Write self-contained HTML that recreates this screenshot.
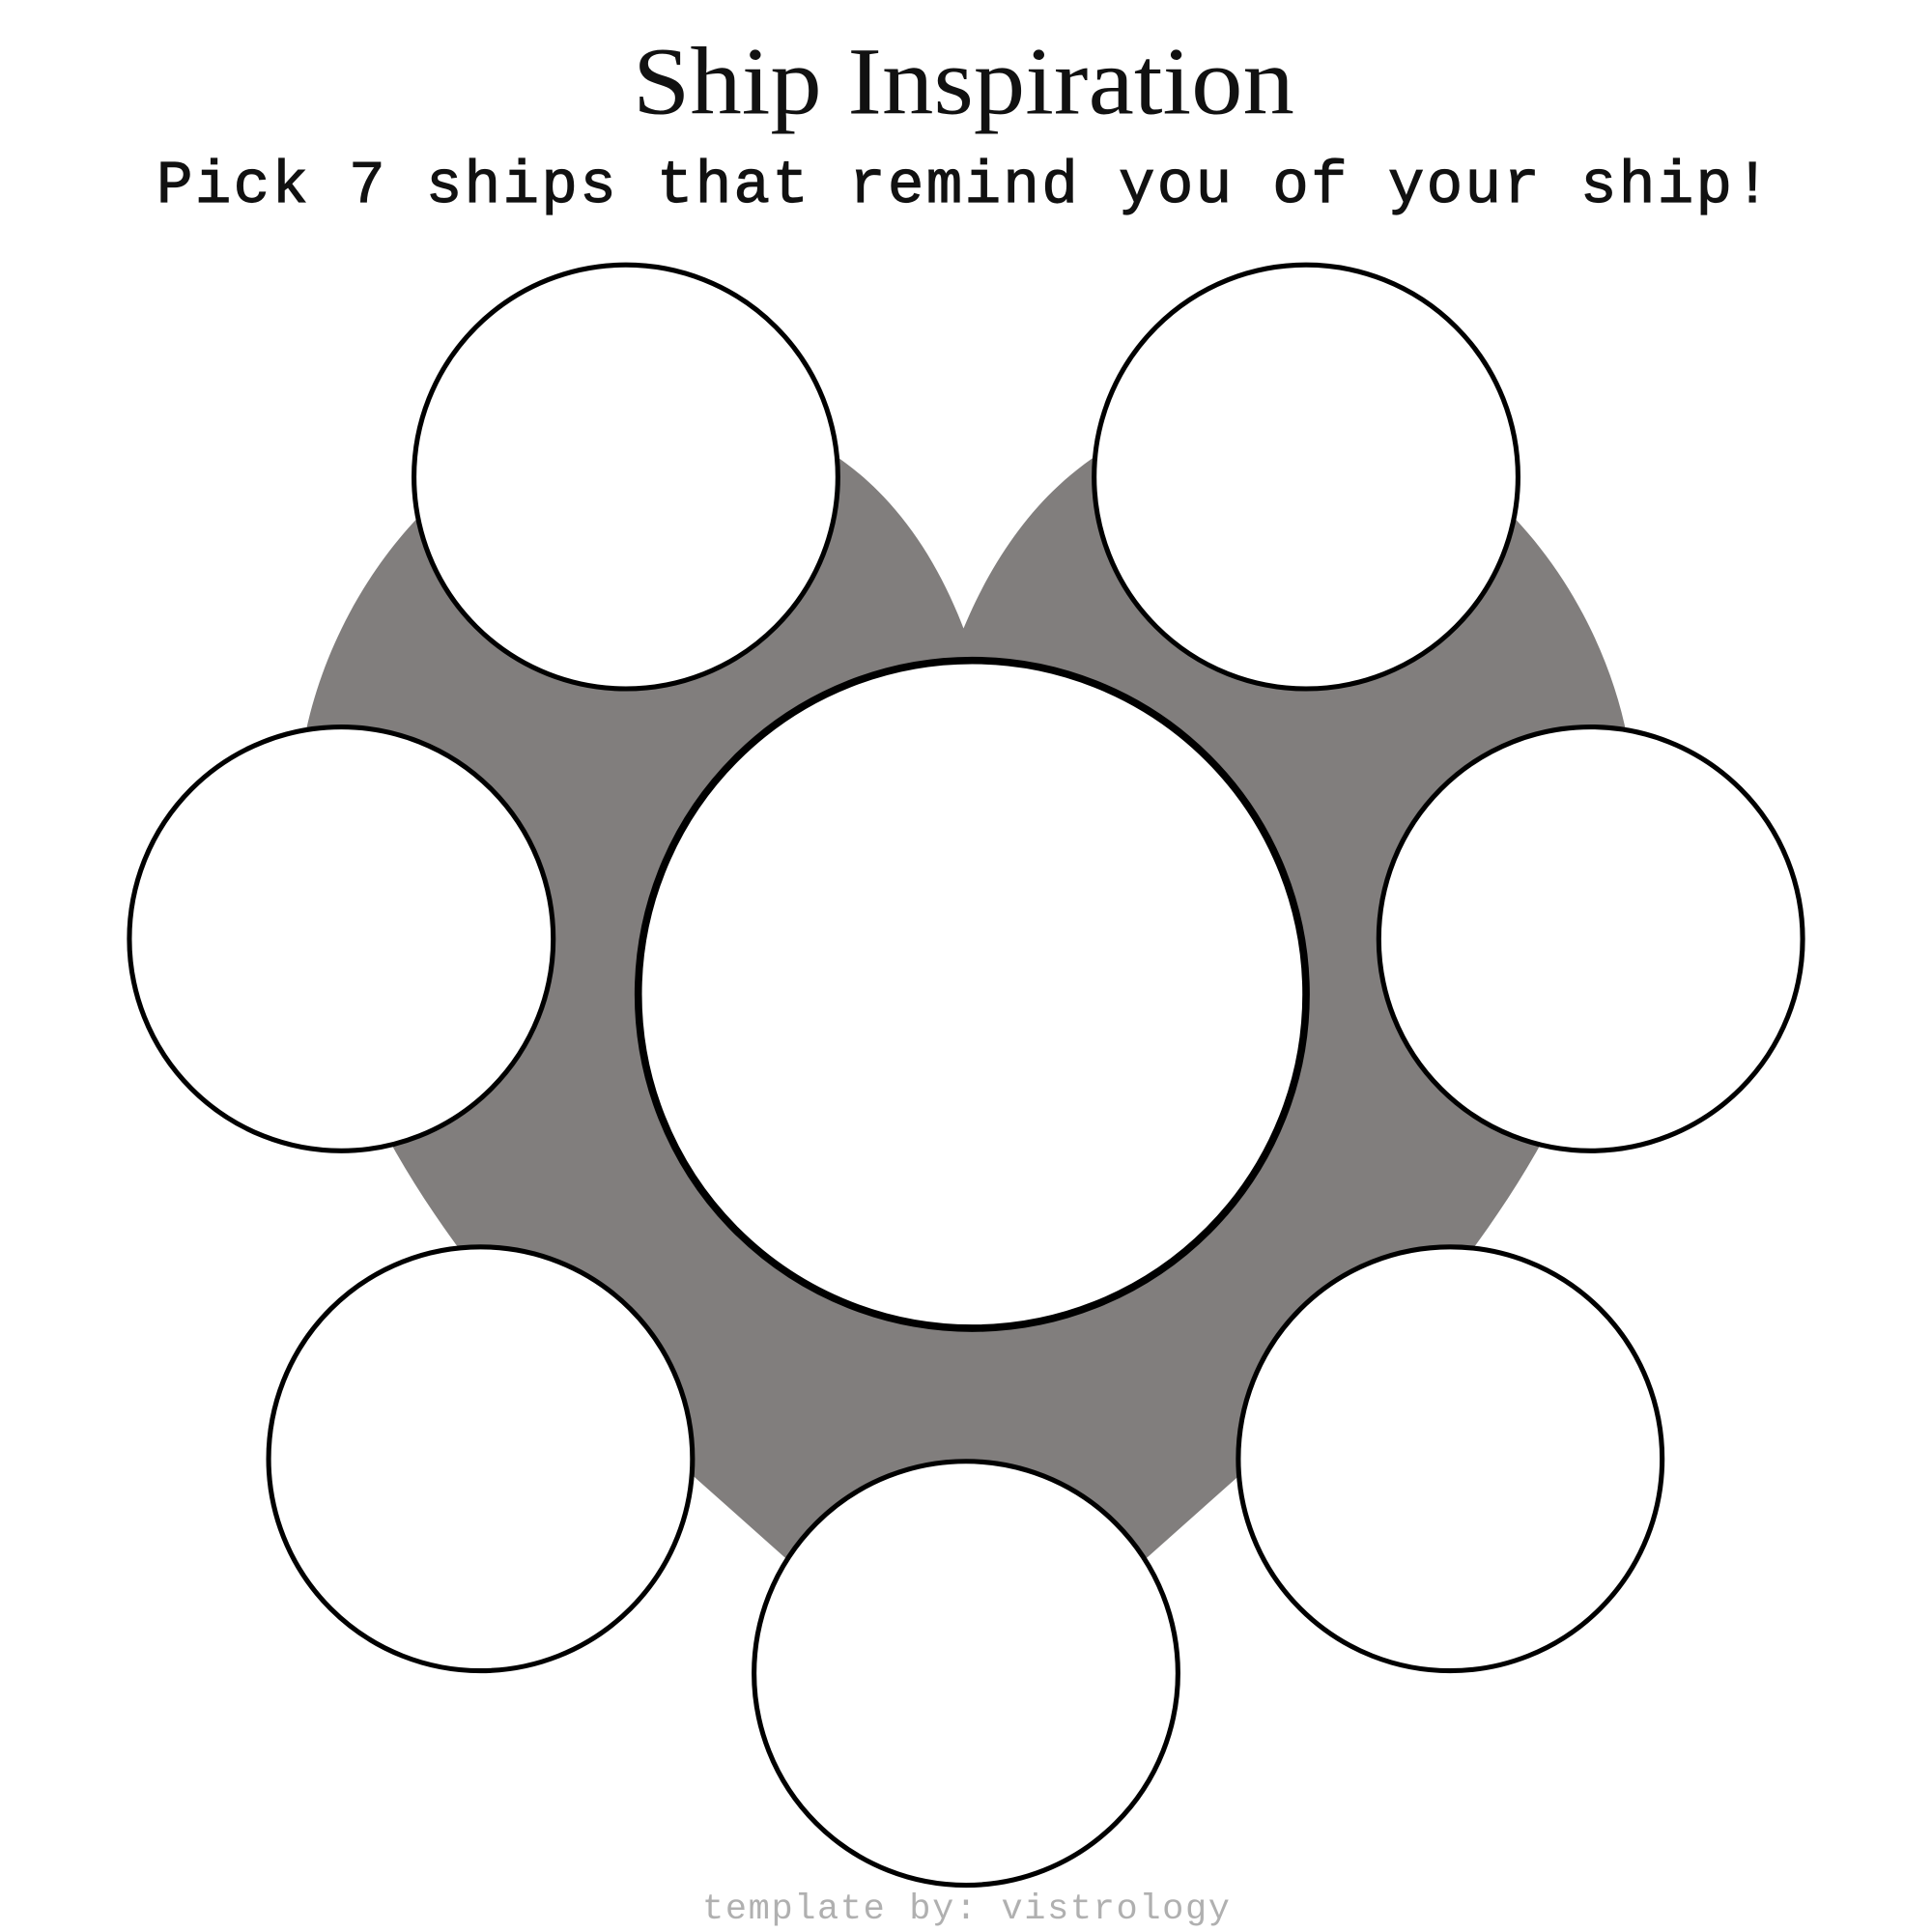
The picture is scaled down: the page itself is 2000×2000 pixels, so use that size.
<!DOCTYPE html>
<html><head><meta charset="utf-8"><style>html,body{margin:0;padding:0;background:#fff}svg{display:block}</style></head>
<body>
<svg width="2000" height="2000" viewBox="0 0 1568 1568" xmlns="http://www.w3.org/2000/svg">
<rect width="1568" height="1568" fill="#fff"/>
<text x="782" y="92" text-anchor="middle" font-family="Liberation Serif, serif" font-size="78" textLength="537" lengthAdjust="spacingAndGlyphs" fill="#111">Ship Inspiration</text>
<text x="782" y="164" text-anchor="middle" font-family="Liberation Mono, monospace" font-size="49" textLength="1310" lengthAdjust="spacing" fill="#111" stroke="#111" stroke-width="0.9">Pick 7 ships that remind you of your ship!</text>
<path d="M782,510 C740,400 660,330 540,330 C380,330 272,470 247,600 C225,760 290,900 370,1010 C430,1080 500,1140 565,1200 L784,1395 L1003,1200 C1068,1140 1138,1080 1198,1010 C1278,900 1343,760 1321,600 C1296,470 1188,330 1028,330 C908,330 828,400 782,510 Z" fill="#817e7d"/>
<g fill="#fff" stroke="#000" stroke-width="4">
<circle cx="508" cy="387" r="172"/>
<circle cx="1060" cy="387" r="172"/>
<circle cx="277" cy="762" r="172"/>
<circle cx="1291" cy="762" r="172"/>
<circle cx="390" cy="1184" r="172"/>
<circle cx="1177" cy="1184" r="172"/>
<circle cx="784" cy="1358" r="172"/>
<circle cx="789" cy="807" r="271" stroke-width="6"/>
</g>
<text x="784" y="1557" text-anchor="middle" font-family="Liberation Mono, monospace" font-size="29" textLength="428" lengthAdjust="spacing" fill="#b0b0b0">template by: vistrology</text>
</svg>
</body></html>
